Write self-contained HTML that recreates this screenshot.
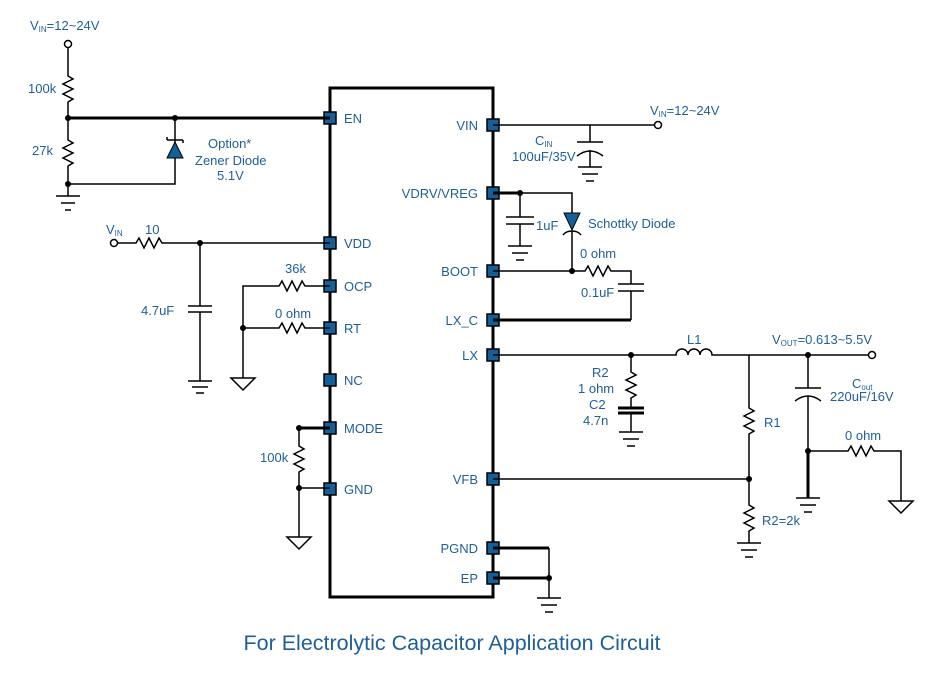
<!DOCTYPE html>
<html><head><meta charset="utf-8"><style>
html,body{margin:0;padding:0;background:#fff;}
svg{display:block;}
text{font-family:"Liberation Sans",sans-serif;font-size:13px;fill:#1f5f99;}
.w{stroke:#000;stroke-width:1.5;fill:none;}
.t{stroke:#000;stroke-width:3;fill:none;}
.p{fill:#135f99;stroke:#000;stroke-width:1.5;}
</style></head><body>
<svg width="948" height="683" viewBox="0 0 948 683" xmlns="http://www.w3.org/2000/svg">
<rect x="330" y="88" width="163" height="509" class="t"/>
<g class="p">
<rect x="324" y="112" width="12" height="12"/><rect x="324" y="237" width="12" height="12"/>
<rect x="324" y="280" width="12" height="12"/><rect x="324" y="322" width="12" height="12"/>
<rect x="324" y="374" width="12" height="12"/><rect x="324" y="422" width="12" height="12"/>
<rect x="324" y="483" width="12" height="12"/>
<rect x="487" y="119" width="12" height="12"/><rect x="487" y="187" width="12" height="12"/>
<rect x="487" y="265" width="12" height="12"/><rect x="487" y="314" width="12" height="12"/>
<rect x="487" y="349" width="12" height="12"/><rect x="487" y="473" width="12" height="12"/>
<rect x="487" y="542" width="12" height="12"/><rect x="487" y="572" width="12" height="12"/>
</g>
<text x="344" y="123">EN</text><text x="344" y="248">VDD</text><text x="344" y="291">OCP</text>
<text x="344" y="333">RT</text><text x="344" y="385">NC</text><text x="344" y="433">MODE</text>
<text x="344" y="494">GND</text>
<text x="478" y="130" text-anchor="end">VIN</text><text x="478" y="198" text-anchor="end">VDRV/VREG</text>
<text x="478" y="276" text-anchor="end">BOOT</text><text x="478" y="325" text-anchor="end">LX_C</text>
<text x="478" y="360" text-anchor="end">LX</text><text x="478" y="484" text-anchor="end">VFB</text>
<text x="478" y="553" text-anchor="end">PGND</text><text x="478" y="583" text-anchor="end">EP</text>

<text x="30" y="30">V<tspan font-size="8" dy="2">IN</tspan><tspan dy="-2">=12~24V</tspan></text>
<circle cx="68" cy="44" r="3.5" fill="#fff" stroke="#000" stroke-width="1.5"/>
<path class="w" d="M68,48 V76 l5,3 -10,5 10,5 -10,5 10,5 -5,3 V140 l5,3 -10,5 10,5 -10,5 10,5 -5,3 V196"/>
<text x="28" y="93">100k</text><text x="32" y="155">27k</text>
<path class="t" d="M68,118 H330"/>
<path class="w" d="M68,184 H175 V118"/>
<path d="M175,142 L183,158 L167,158 Z" fill="#135f99" stroke="#000" stroke-width="1"/>
<path class="w" d="M167,140 H183 M167,140 v-3 M183,140 v3"/>
<path class="w" d="M56,196 H80 M61,203 H75 M65,210 H71"/>
<circle cx="68" cy="118" r="3"/><circle cx="175" cy="118" r="3"/><circle cx="68" cy="184" r="3"/>
<text x="208" y="148">Option*</text><text x="195" y="165">Zener Diode</text><text x="217" y="180">5.1V</text>

<text x="106" y="234">V<tspan font-size="8" dy="2">IN</tspan></text><text x="145" y="234">10</text>
<circle cx="114" cy="243" r="3.5" fill="#fff" stroke="#000" stroke-width="1.5"/>
<path class="w" d="M118,243 H136 l3,-5 5,10 5,-10 5,10 5,-10 3,5 H330"/>
<circle cx="200" cy="243" r="3"/>
<path class="w" d="M200,243 V306 M188,306 H212 M188,312 H212 M200,312 V381 M188,381 H212 M192,387 H208 M196,393 H204"/>
<text x="141" y="315">4.7uF</text>
<text x="285" y="273">36k</text><text x="275" y="318">0 ohm</text>
<path class="w" d="M330,286 H305 l-3,-5 -5,10 -5,-10 -5,10 -5,-10 -3,5 H243 V378"/>
<path class="w" d="M330,328 H305 l-3,-5 -5,10 -5,-10 -5,10 -5,-10 -3,5 H243"/>
<circle cx="243" cy="328" r="3"/>
<path class="w" d="M231,378 H255 L243,390 Z"/>
<path class="t" d="M330,428 H299"/>
<path class="w" d="M299,428 V446 l5,3 -10,5 10,5 -10,5 10,5 -5,3 V537 M299,488 H330"/>
<circle cx="299" cy="428" r="3"/><circle cx="299" cy="488" r="3"/>
<path class="w" d="M287,537 H311 L299,549 Z"/>
<text x="260" y="462">100k</text>

<text x="650" y="115">V<tspan font-size="8" dy="2">IN</tspan><tspan dy="-2">=12~24V</tspan></text>
<path class="w" d="M493,125 H654"/>
<circle cx="658" cy="125" r="3.5" fill="#fff" stroke="#000" stroke-width="1.5"/>
<path class="w" d="M590,125 V142 M577,142 H603 M577,156 Q590,146 603,156 M590,150 V167 M578,167 H602 M582,174 H598 M586,181 H594"/>
<text x="535" y="145">C<tspan font-size="8" dy="2">IN</tspan></text><text x="512" y="161">100uF/35V</text>

<path class="t" d="M493,193 H520"/>
<path class="w" d="M520,193 H572 V213 M520,193 V217 M506,217 H534 M506,224 H534 M520,224 V246 M508,246 H532 M512,253 H528 M516,260 H524"/>
<circle cx="520" cy="193" r="3"/>
<text x="536" y="230">1uF</text>
<path d="M564,213 H580 L572,230 Z" fill="#135f99" stroke="#000" stroke-width="1"/>
<path class="w" d="M563,235 Q566,231 572,231 Q578,231 581,235 M572,231 V271"/>
<text x="588" y="228">Schottky Diode</text>
<path class="w" d="M493,271 H585 l3,-5 5,10 5,-10 5,10 5,-10 3,5 H631 V284 M618,284 H644 M618,291 H644 M631,291 V320"/>
<circle cx="572" cy="271" r="3"/>
<text x="580" y="258">0 ohm</text><text x="581" y="297">0.1uF</text>
<path class="t" d="M493,320 H631"/>

<path class="w" d="M493,355 H676 a6,6 0 0 1 12,0 a6,6 0 0 1 12,0 a6,6 0 0 1 12,0 H868"/>
<circle cx="872" cy="355" r="3.5" fill="#fff" stroke="#000" stroke-width="1.5"/>
<text x="687" y="344">L1</text>
<text x="772" y="344">V<tspan font-size="8" dy="2">OUT</tspan><tspan dy="-2">=0.613~5.5V</tspan></text>
<circle cx="631" cy="355" r="3"/>
<path class="w" d="M631,355 V372 l5,3 -10,5 10,5 -10,5 10,5 -5,3 V408 M631,412 V432 M619,432 H643 M623,439 H639 M627,446 H635"/>
<path class="t" d="M618,408 H644 M618,413 H644" stroke-width="2"/>
<text x="592" y="377">R2</text><text x="578" y="393">1 ohm</text><text x="589" y="409">C2</text><text x="583" y="425">4.7n</text>
<path class="w" d="M749,355 V408 l5,3 -10,5 10,5 -10,5 10,5 -5,3 V505 l5,3 -10,5 10,5 -10,5 10,5 -5,3 V543 M737,543 H761 M741,550 H757 M745,557 H753"/>
<path class="w" d="M493,479 H749"/>
<circle cx="749" cy="479" r="3"/>
<text x="764" y="427">R1</text><text x="762" y="525">R2=2k</text>
<circle cx="808" cy="355" r="3"/>
<path class="w" d="M808,355 V388 M795,388 H821 M795,401 Q808,391 821,401 M808,396 V451"/>
<path class="t" d="M808,451 V498"/>
<path class="w" d="M796,498 H820 M800,505 H816 M804,512 H812"/>
<circle cx="808" cy="451" r="3"/>
<text x="852" y="388">C<tspan font-size="8" dy="2">out</tspan></text><text x="830" y="401">220uF/16V</text>
<path class="w" d="M808,451 H848 l3,-5 5,10 5,-10 5,10 5,-10 3,5 H901 V501 M889,501 H913 L901,513 Z"/>
<text x="845" y="440">0 ohm</text>

<path class="t" d="M493,548 H549 M493,578 H549"/>
<path class="w" d="M549,548 V598 M537,598 H561 M541,605 H557 M545,612 H553"/>
<circle cx="549" cy="578" r="3"/>

<text x="452" y="650" text-anchor="middle" style="font-size:21.5px">For Electrolytic Capacitor Application Circuit</text>
</svg>
</body></html>
